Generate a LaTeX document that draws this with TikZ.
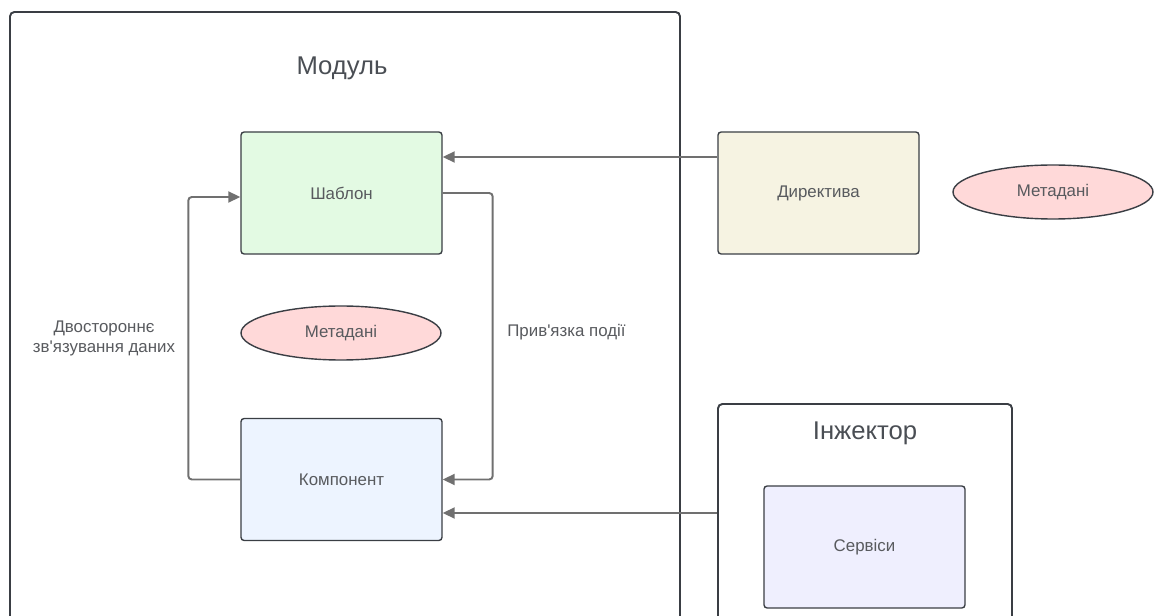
\documentclass[tikz,border=0pt]{standalone}
\usepackage{fontspec}
\newfontfamily\diagfont{Liberation Sans}
\usetikzlibrary{arrows.meta, positioning, calc, shapes.geometric}
\definecolor{cLine}{RGB}{112,112,112}
\definecolor{cBorder}{RGB}{58,62,68}
\definecolor{cText}{RGB}{88,90,94}
\definecolor{cHead}{RGB}{74,78,84}
\definecolor{cTmpl}{RGB}{227,250,227}
\definecolor{cComp}{RGB}{237,244,255}
\definecolor{cDir}{RGB}{246,243,226}
\definecolor{cServ}{RGB}{239,239,254}
\definecolor{cMeta}{RGB}{255,217,217}
\tikzset{
	card/.style     ={rectangle, rounded corners=1.8pt, draw=cBorder, line width=0.8pt, minimum width=4.02cm, minimum height=2.44cm, align=center, text=cText, font=\diagfont\fontsize{9.6}{11.4}\selectfont},
	meta/.style     ={ellipse, draw=cBorder, line width=0.8pt, fill=cMeta, minimum width=4cm, minimum height=1.08cm, text=cText, font=\diagfont\fontsize{9.6}{11.4}\selectfont},
	container/.style={rectangle, rounded corners=2.5pt, draw=cBorder, line width=1.1pt},
	heading/.style  ={font=\diagfont\fontsize{14.6}{16}\selectfont, text=cHead},
	note/.style     ={align=center, inner sep=0pt, text=cText, font=\diagfont\fontsize{9.6}{11.4}\selectfont},
	link/.style     ={-{Triangle[length=2.4mm, width=2.2mm]}, draw=cLine, line width=1.1pt, rounded corners=2pt},
}
\begin{document}
\begin{tikzpicture}
	\useasboundingbox (0,0) rectangle (23.08,12.32);
	\clip (0,0) rectangle (23.08,12.32);
	% containers
	\node[container, minimum width=13.4cm, minimum height=13.2cm] (module) at (6.9,5.48) {};
	\node[heading] (modtitle) at (6.84,10.96) {Модуль};
	\node[container, minimum width=5.88cm, minimum height=5.24cm] (inject) at (17.3,1.62) {};
	\node[heading] (injtitle) at (17.3,3.66) {Інжектор};
	% blocks
	\node[card, fill=cTmpl] (tmpl) at (6.83,8.46) {Шаблон};
	\node[meta] (meta1) at (6.82,5.66) {Метадані};
	\node[card, fill=cComp] (comp) at (6.83,2.73) {Компонент};
	\node[card, fill=cDir] (dir) at (16.37,8.46) {Директива};
	\node[meta] (meta2) at (21.06,8.48) {Метадані};
	\node[card, fill=cServ] (serv) at (17.29,1.38) {Сервіси};
	% labels
	\node[note] (twoway) at (2.08,5.56) {Двостороннє\\зв'язування даних};
	\node[note, anchor=west] (evbind) at (10.14,5.68) {Прив'язка події};
	% connectors
	\draw[link] ([yshift=0.72cm]dir.west) -- ([yshift=0.72cm]tmpl.east);
	\draw[link] (tmpl.east) -- ++(1.0,0) |- (comp.east);
	\draw[link] (comp.west) -- ++(-1.04,0) |- ([yshift=-0.08cm]tmpl.west);
	\coordinate (svcin) at ([yshift=-0.67cm]comp.east);
	\draw[link] (inject.west |- svcin) -- (svcin);
\end{tikzpicture}
\end{document}
